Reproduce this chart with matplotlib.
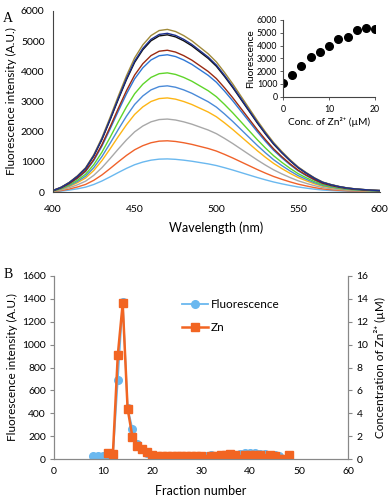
import numpy as np
import matplotlib
matplotlib.use("Agg")
import matplotlib.pyplot as plt

plt.rcParams['font.family'] = ['Lato', 'DejaVu Sans']

# --- panel A: emission spectra ---
wavelength = [400, 405, 410, 415, 420, 425, 430, 435, 440, 445, 450, 455, 460, 465,
              470, 475, 480, 485, 490, 495, 500, 505, 510, 515, 520, 525, 530, 535,
              540, 545, 550, 555, 560, 565, 570, 575, 580, 585, 590, 595, 600]
# normalised spectral shape
shape = [0.01, 0.03, 0.06, 0.10, 0.15, 0.23, 0.335, 0.46, 0.59, 0.715, 0.825, 0.905,
         0.962, 0.993, 1.0, 0.987, 0.962, 0.93, 0.89, 0.85, 0.80, 0.735, 0.665, 0.59,
         0.515, 0.44, 0.37, 0.305, 0.25, 0.20, 0.155, 0.12, 0.088, 0.062, 0.047,
         0.035, 0.026, 0.02, 0.016, 0.012, 0.01]
conc = [0, 2, 4, 6, 8, 10, 12, 14, 16, 18, 20]
peak = [1100, 1700, 2420, 3120, 3520, 3950, 4550, 4700, 5210, 5390, 5260]
colors = ['#6ab8ef', '#f0622a', '#a8a8a8', '#fdb515', '#4a8ad8', '#5fd52a',
          '#2f78d6', '#9a2a12', '#111111', '#a08a3a', '#1c2f8c']

# --- panel B: fractions ---
frac_f = list(range(8, 47))
fluor = [30, 30, 30, 30, 25, 690, 1370, 450, 260, 130, 85, 55, 35, 30, 30, 30, 30,
         30, 30, 30, 30, 30, 30, 30, 35, 30, 30, 30, 35, 40, 45, 50, 50, 55, 45, 45,
         40, 40, 30]
frac_zn = list(range(11, 49))
zn = [0.55, 0.45, 9.1, 13.6, 4.4, 1.9, 1.1, 0.85, 0.6, 0.35, 0.25, 0.25, 0.25, 0.25,
      0.25, 0.25, 0.25, 0.25, 0.25, 0.25, 0.05, 0.3, 0.3, 0.35, 0.4, 0.45, 0.35,
      0.05, 0.35, 0.4, 0.4, 0.35, 0.1, 0.35, 0.3, 0.05, 0.05, 0.35]

fig = plt.figure(figsize=(3.92, 4.99), dpi=100)

# panel A
ax = fig.add_axes([0.135, 0.615, 0.834, 0.363])
wl = np.array(wavelength)
sh = np.array(shape)
for p, c in zip(peak, colors):
    ax.plot(wl, p * sh, color=c, lw=1.0)
ax.set_xlim(400, 600)
ax.set_ylim(0, 6000)
ax.set_xticks([400, 450, 500, 550, 600])
ax.set_yticks(range(0, 6001, 1000))
for s in ['top', 'right']:
    ax.spines[s].set_visible(False)
for s in ['left', 'bottom']:
    ax.spines[s].set_color('#444444')
ax.tick_params(length=0, labelsize=7.5, pad=6)
ax.tick_params(axis='x', pad=9)
ax.set_xlabel('Wavelength (nm)', fontsize=9, labelpad=6)
ax.set_ylabel('Fluorescence intensity (A.U.)', fontsize=8.5, labelpad=3)

# inset
ins = fig.add_axes([0.722, 0.806, 0.235, 0.154])
ins.plot(conc, peak, 'o', color='black', ms=5.5)
ins.set_xlim(0, 20)
ins.set_ylim(0, 6000)
ins.set_xticks([0, 10, 20])
ins.set_yticks(range(0, 6001, 1000))
for s in ['top', 'right']:
    ins.spines[s].set_visible(False)
for s in ['left', 'bottom']:
    ins.spines[s].set_color('#444444')
ins.tick_params(labelsize=6.3, length=2, width=0.6, color='#444444', pad=2)
ins.tick_params(axis='x', pad=4)
ins.set_xlabel('Conc. of Zn²⁺ (µM)', fontsize=7.3, labelpad=2)
ins.set_ylabel('Fluorescence', fontsize=7.3, labelpad=1)
ins.patch.set_alpha(0)

fig.text(0.008, 0.975, 'A', family='Liberation Serif', fontsize=10, va='top')
fig.text(0.008, 0.462, 'B', family='Liberation Serif', fontsize=10, va='top')

# panel B
bx = fig.add_axes([0.138, 0.080, 0.750, 0.367])
l1, = bx.plot(frac_f, fluor, '-o', color='#6ab8ef', ms=5.5, lw=1.3, label='Fluorescence')
bx.set_xlim(0, 60)
bx.set_ylim(0, 1600)
bx.set_xticks(range(0, 61, 10))
bx.set_yticks(range(0, 1601, 200))
bx2 = bx.twinx()
l2, = bx2.plot(frac_zn, zn, '-s', color='#f26522', ms=5.5, lw=1.8, label='Zn')
bx2.set_ylim(0, 16)
bx2.set_yticks(range(0, 17, 2))
for a in (bx, bx2):
    a.spines['top'].set_visible(False)
    for s in ['left', 'bottom', 'right']:
        a.spines[s].set_color('#888888')
    a.tick_params(labelsize=7.5, length=3, color='#888888', pad=3)
bx.tick_params(axis='x', length=0, pad=6)
bx.set_xlabel('Fraction number', fontsize=9, labelpad=6)
bx.set_ylabel('Fluorescence intensity (A.U.)', fontsize=8.5, labelpad=3)
bx2.set_ylabel('Concentration of Zn²⁺ (µM)', fontsize=8.5, labelpad=4)
bx.legend(handles=[l1, l2], loc='upper left', bbox_to_anchor=(0.40, 0.93),
          frameon=False, fontsize=8.5, handlelength=2.2, handletextpad=0.2,
          labelspacing=1.0)

fig.savefig('out.png', dpi=100)
